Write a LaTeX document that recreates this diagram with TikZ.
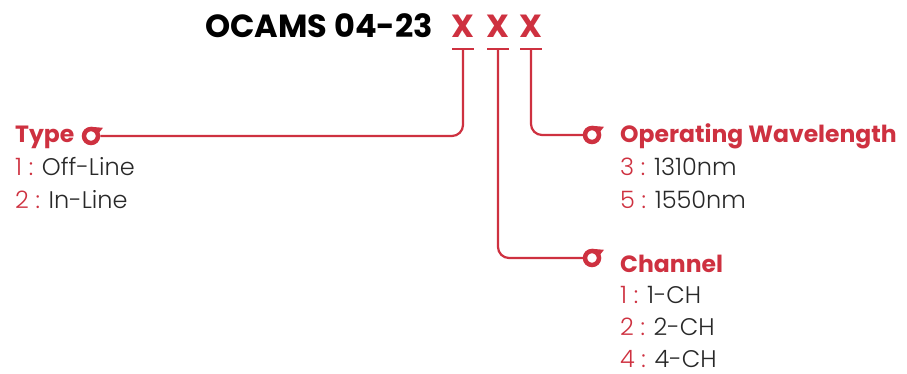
\documentclass[tikz,border=0pt]{standalone}
\usepackage{fontspec}
\setmainfont{Poppins}
\newfontfamily\lightfont{Poppins}[UprightFont=* Light]
\usepackage{tikz}
\usetikzlibrary{positioning, calc}

\definecolor{codered}{RGB}{206,49,64}
\definecolor{txtgray}{RGB}{40,40,40}

\begin{document}
\begin{tikzpicture}[
    x=1pt, y=-1pt,
    title/.style={inner sep=0, anchor=base west, font=\bfseries\fontsize{32}{36}\selectfont, text=black},
    code/.style={inner sep=0, anchor=base, font=\bfseries\fontsize{32}{36}\selectfont, text=codered, minimum width=23pt},
    head/.style={inner sep=0, anchor=base west, font=\bfseries\fontsize{23.5}{26}\selectfont, text=codered},
    opt/.style={inner sep=0, font=\lightfont\fontsize{24}{26}\selectfont, text=txtgray},
    ring/.style={circle, draw=codered, line width=4.5pt, minimum size=14pt, inner sep=0},
    link/.style={draw=codered, line width=2.2pt, rounded corners=11pt}
]
\useasboundingbox (0,0) rectangle (907,374);

% Part number
\node[title] (ocams) at (205,38) {OCAMS 04-23};
\node[code] (x1) at (463,38) {X};
\node[code] (x2) at (498,38) {X};
\node[code] (x3) at (531,38) {X};

% Headings and markers
\node[head] (type) at (15,143) {Type};
\node[head] (wave) at (620,143) {Operating Wavelength};
\node[head] (chan) at (620,272) {Channel};
\node[ring] (r1) at (91,136) {};
\node[ring] (r3) at (592,135) {};
\node[ring] (r2) at (592,258) {};
\foreach \r in {r1,r2,r3}
  \fill[codered] ($(\r.center)+(0,-9.2)$) -- ++(12,1) -- ($(\r.center)+(7,-2)$) -- cycle;

% Options
\node[opt, below=33pt of type.base west, anchor=base west] (t1) {\textcolor{codered}{1 :} Off-Line};
\node[opt, below=32pt of t1.base west, anchor=base west] (t2) {\textcolor{codered}{2 :} In-Line};
\node[opt, below=33pt of wave.base west, anchor=base west] (w1) {\textcolor{codered}{3 :} 1310nm};
\node[opt, below=32pt of w1.base west, anchor=base west] (w2) {\textcolor{codered}{5 :} 1550nm};
\node[opt, below=31pt of chan.base west, anchor=base west] (c1) {\textcolor{codered}{1 :} 1-CH};
\node[opt, below=32pt of c1.base west, anchor=base west] (c2) {\textcolor{codered}{2 :} 2-CH};
\node[opt, below=32pt of c2.base west, anchor=base west] (c4) {\textcolor{codered}{4 :} 4-CH};

% Underlines and leaders
\foreach \x in {x1,x2,x3}
  \draw[codered, line width=2.2pt] ($(\x.base)+(-11,11)$) -- ($(\x.base)+(11,11)$);
\draw[link] ($(x1.base)+(0,11)$) |- (r1.east);
\draw[link] ($(x2.base)+(0,11)$) |- (r2.west);
\draw[link] ($(x3.base)+(0,11)$) |- (r3.west);

\end{tikzpicture}
\end{document}
